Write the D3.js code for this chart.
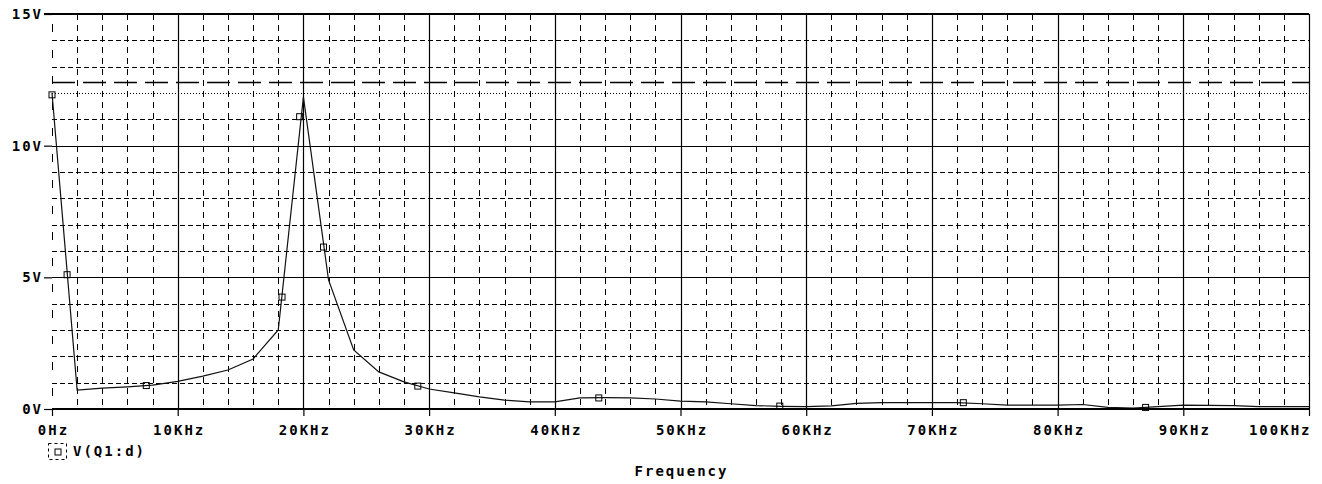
<!DOCTYPE html>
<html>
<head>
<meta charset="utf-8">
<script src="https://cdn.jsdelivr.net/npm/d3@7"></script>
<style>
    body { margin: 0; background: #fff; }
    svg text { font-family: "DejaVu Sans Mono", monospace; font-weight: bold; font-size: 14px; letter-spacing: 2px; fill: #000; }
</style>
</head>
<body>
<div id="chart"></div>
<script>
// FFT of V(Q1:d), one point every 2KHz
var freqKHz = [0, 2, 4, 6, 8, 10, 12, 14, 16, 18, 20, 22, 24, 26, 28, 30, 32, 34, 36, 38, 40,
    42, 44, 46, 48, 50, 52, 54, 56, 58, 60, 62, 64, 66, 68, 70, 72, 74, 76, 78, 80,
    82, 84, 86, 88, 90, 92, 94, 96, 98, 100];
var voltage = [12.0, 0.72, 0.79, 0.84, 0.91, 1.05, 1.25, 1.48, 1.90, 3.0, 11.85, 4.9, 2.24, 1.41, 1.03, 0.76, 0.61, 0.46, 0.34, 0.27, 0.27,
    0.42, 0.43, 0.42, 0.38, 0.30, 0.27, 0.20, 0.13, 0.10, 0.09, 0.12, 0.21, 0.24, 0.24, 0.24, 0.24, 0.20, 0.15, 0.15, 0.15,
    0.17, 0.06, 0.03, 0.09, 0.15, 0.14, 0.13, 0.09, 0.09, 0.09];

// trace markers (little squares) as they sit on the curve
var markerFreq = [0, 1.2, 7.5, 18.3, 19.7, 21.6, 29.1, 43.5, 57.9, 72.5, 87.0];
var markerVolt = [11.93, 5.1, 0.89, 4.25, 11.1, 6.15, 0.87, 0.42, 0.11, 0.24, 0.06];

var xMajor = [0, 10, 20, 30, 40, 50, 60, 70, 80, 90, 100];
var xLabels = ["0Hz", "10KHz", "20KHz", "30KHz", "40KHz", "50KHz", "60KHz", "70KHz", "80KHz", "90KHz", "100KHz"];
var yMajor = [0, 5, 10, 15];
var yLabels = ["0V", "5V", "10V", "15V"];

// two horizontal reference lines near the top
var dashedLevel = 12.4;
var dottedLevel = 12.0;

var width = 1322, height = 484;

var svg = d3.select("#chart").append("svg")
    .attr("width", width)
    .attr("height", height);

var x = d3.scaleLinear().domain([0, 100]).range([52, 1309]);
var y = d3.scaleLinear().domain([0, 15]).range([409, 14]);

// minor grid
var xMinor = d3.range(2, 100, 2).filter(function(d) { return d % 10 !== 0; });
var yMinor = d3.range(1, 15).filter(function(d) { return d % 5 !== 0 && d !== dottedLevel; });

svg.append("g").selectAll("line")
    .data(xMinor)
    .enter().append("line")
    .attr("x1", function(d) { return Math.round(x(d)) + 0.5; })
    .attr("x2", function(d) { return Math.round(x(d)) + 0.5; })
    .attr("y1", y(15))
    .attr("y2", y(0))
    .style("stroke", "#000")
    .style("stroke-width", 1)
    .style("stroke-dasharray", "6,5");

svg.append("g").selectAll("line")
    .data(yMinor)
    .enter().append("line")
    .attr("x1", x(0))
    .attr("x2", x(100))
    .attr("y1", function(d) { return Math.round(y(d)) + 0.5; })
    .attr("y2", function(d) { return Math.round(y(d)) + 0.5; })
    .style("stroke", "#000")
    .style("stroke-width", 1)
    .style("stroke-dasharray", "5,3");

// left edge is a sparse dashed line
svg.append("line")
    .attr("x1", x(0) + 0.5).attr("x2", x(0) + 0.5)
    .attr("y1", y(15) + 10).attr("y2", y(0))
    .style("stroke", "#000")
    .style("stroke-dasharray", "8,18");

// major grid (solid)
svg.append("g").selectAll("line")
    .data(xMajor.filter(function(d) { return d > 0; }))
    .enter().append("line")
    .attr("x1", function(d) { return Math.round(x(d)) + 0.5; })
    .attr("x2", function(d) { return Math.round(x(d)) + 0.5; })
    .attr("y1", y(15))
    .attr("y2", y(0))
    .style("stroke", "#000")
    .style("stroke-width", 1.2);

svg.append("g").selectAll("line")
    .data([5, 10])
    .enter().append("line")
    .attr("x1", x(0))
    .attr("x2", x(100))
    .attr("y1", function(d) { return Math.round(y(d)) + 0.5; })
    .attr("y2", function(d) { return Math.round(y(d)) + 0.5; })
    .style("stroke", "#000")
    .style("stroke-width", 1.2);

// reference lines
svg.append("line")
    .attr("x1", x(0)).attr("x2", x(100))
    .attr("y1", Math.round(y(dashedLevel)) + 0.5).attr("y2", Math.round(y(dashedLevel)) + 0.5)
    .style("stroke", "#000")
    .style("stroke-width", 1.4)
    .style("stroke-dasharray", "23,8");

svg.append("line")
    .attr("x1", x(0)).attr("x2", x(100))
    .attr("y1", Math.round(y(dottedLevel)) + 0.5).attr("y2", Math.round(y(dottedLevel)) + 0.5)
    .style("stroke", "#000")
    .style("stroke-width", 1)
    .style("stroke-dasharray", "1,2");

// frame: top
svg.append("line")
    .attr("x1", x(0) - 8).attr("x2", x(100))
    .attr("y1", y(15)).attr("y2", y(15))
    .style("stroke", "#000")
    .style("stroke-width", 1.8);

// the trace
var points = freqKHz.map(function(f, i) { return [f, voltage[i]]; });
var line = d3.line()
    .x(function(d) { return x(d[0]); })
    .y(function(d) { return y(d[1]); });

svg.append("path")
    .datum(points)
    .attr("d", line)
    .style("fill", "none")
    .style("stroke", "#111")
    .style("stroke-width", 1.2);

svg.append("g").selectAll("rect")
    .data(markerFreq)
    .enter().append("rect")
    .attr("x", function(d) { return x(d) - 3; })
    .attr("y", function(d, i) { return y(markerVolt[i]) - 3; })
    .attr("width", 6)
    .attr("height", 6)
    .style("fill", "none")
    .style("stroke", "#000")
    .style("stroke-width", 1);

// axes
var xAxis = d3.axisBottom(x)
    .tickValues(xMajor)
    .tickFormat(function(d, i) { return xLabels[i]; })
    .tickSize(7)
    .tickPadding(9);

var gx = svg.append("g")
    .attr("transform", "translate(0," + y(0) + ")")
    .call(xAxis);
gx.select(".domain").style("stroke-width", 1.8).attr("d", "M" + x(0) + ",0H" + x(100));
gx.selectAll(".tick line").style("stroke-width", 1.2);
gx.selectAll(".tick text").attr("dx", "1px");
// last label is pushed left so it ends at the plot edge
gx.selectAll(".tick text").filter(function(d) { return d === 100; })
    .attr("text-anchor", "end")
    .attr("dx", "2px");

var yAxis = d3.axisLeft(y)
    .tickValues(yMajor)
    .tickFormat(function(d, i) { return yLabels[i]; })
    .tickSize(8)
    .tickPadding(1);

var gy = svg.append("g")
    .attr("transform", "translate(" + x(0) + ",0)")
    .call(yAxis);
gy.select(".domain").remove();
gy.selectAll(".tick line").style("stroke-width", 1.2);

svg.selectAll(".tick text").style("font-size", "14px").style("font-family", "'DejaVu Sans Mono', monospace").style("font-weight", "bold");

// legend
var legend = svg.append("g").attr("transform", "translate(48,443)");
legend.append("rect")
    .attr("x", 0.5).attr("y", 0.5)
    .attr("width", 18).attr("height", 16)
    .style("fill", "none")
    .style("stroke", "#000")
    .style("stroke-dasharray", "3,3");
legend.append("rect")
    .attr("x", 7).attr("y", 6)
    .attr("width", 6).attr("height", 6)
    .style("fill", "none")
    .style("stroke", "#000");
legend.append("text")
    .attr("x", 25)
    .attr("y", 13)
    .text("V(Q1:d)");

// x title
svg.append("text")
    .attr("x", (x(0) + x(100)) / 2 + 1)
    .attr("y", 476)
    .attr("text-anchor", "middle")
    .text("Frequency");
</script>
</body>
</html>
